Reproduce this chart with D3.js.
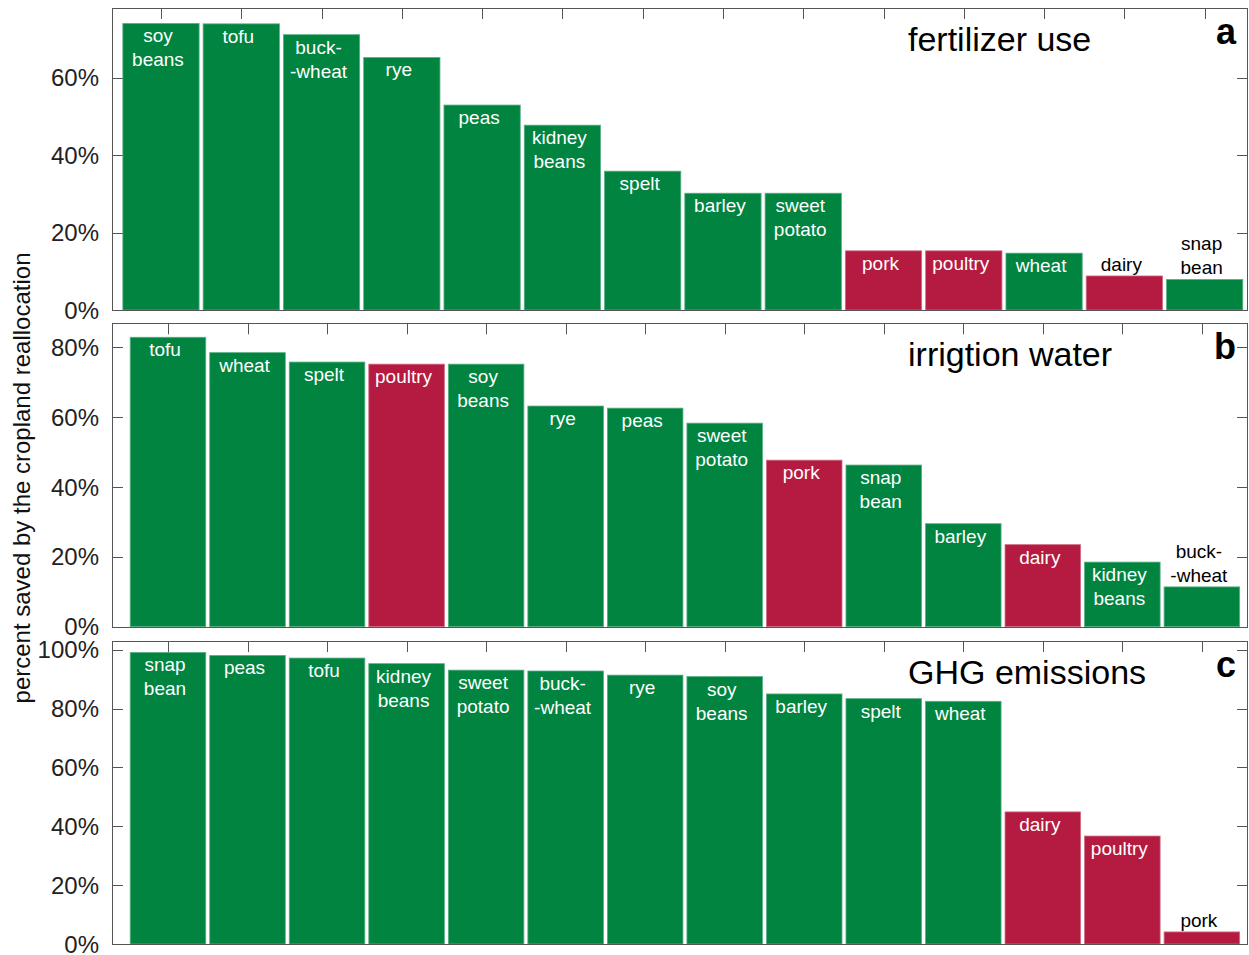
<!DOCTYPE html>
<html>
<head>
<meta charset="utf-8">
<script src="https://cdn.jsdelivr.net/npm/d3@7"></script>
<style>
  html, body { margin: 0; padding: 0; background: #fff; }
  svg { display: block; }
  text { font-family: "Liberation Sans", Arial, Helvetica, sans-serif; }
</style>
</head>
<body>
<svg id="chart" width="1249" height="955"></svg>
<script>
// Share of each resource saved when the cropland is reallocated, per product
const fertilizerCrops = ["soy beans", "tofu", "buckwheat", "rye", "peas", "kidney beans", "spelt",
  "barley", "sweet potato", "pork", "poultry", "wheat", "dairy", "snap bean"];
const fertilizerSaved = [74.1, 74.0, 71.2, 65.3, 53.0, 47.8, 35.9, 30.2, 30.2, 15.3, 15.3, 14.7, 8.8, 7.9];

const irrigationCrops = ["tofu", "wheat", "spelt", "poultry", "soy beans", "rye", "peas",
  "sweet potato", "pork", "snap bean", "barley", "dairy", "kidney beans", "buckwheat"];
const irrigationSaved = [82.9, 78.5, 75.8, 75.2, 75.2, 63.2, 62.6, 58.3, 47.7, 46.3, 29.5, 23.5, 18.5, 11.4];

const ghgCrops = ["snap bean", "peas", "tofu", "kidney beans", "sweet potato", "buckwheat", "rye",
  "soy beans", "barley", "spelt", "wheat", "dairy", "poultry", "pork"];
const ghgSaved = [99.1, 98.1, 97.2, 95.3, 93.1, 92.8, 91.4, 90.9, 85.0, 83.4, 82.5, 44.9, 36.7, 4.1];

const panelTitles = ["fertilizer use", "irrigtion water", "GHG emissions"];
const panelLetters = ["a", "b", "c"];
const yTickValues = [[0, 20, 40, 60], [0, 20, 40, 60, 80], [0, 20, 40, 60, 80, 100]];
const yAxisTitle = "percent saved by the cropland reallocation";

// Animal products are shown in red, plant foods in green
const animalProducts = ["pork", "poultry", "dairy"];
const plantColor = "#00843f";
const animalColor = "#b51b40";

// Two-line labels for the longer names
const wrappedLabels = new Map([
  ["soy beans", ["soy", "beans"]],
  ["kidney beans", ["kidney", "beans"]],
  ["sweet potato", ["sweet", "potato"]],
  ["snap bean", ["snap", "bean"]],
  ["buckwheat", ["buck-", "-wheat"]]
]);

const panels = [
  { crops: fertilizerCrops, values: fertilizerSaved, yMax: 78.1, xDomain: [0.39, 14.54], top: 8, bottom: 310 },
  { crops: irrigationCrops, values: irrigationSaved, yMax: 86.9, xDomain: [0.296, 14.58], top: 323.3, bottom: 626.7 },
  { crops: ghgCrops, values: ghgSaved, yMax: 103, xDomain: [0.296, 14.58], top: 641, bottom: 944 }
];

const svg = d3.select("#chart");
const left = 112, right = 1248;
const frameColor = "#555";
const tickLen = 11;
const barWidthUnits = 0.95;
const labelSize = 19, lineGap = 24;

panels.forEach((p, pi) => {
  const x = d3.scaleLinear().domain(p.xDomain).range([left, right]);
  const y = d3.scaleLinear().domain([0, p.yMax]).range([p.bottom, p.top]);
  const g = svg.append("g");
  const idx = d3.range(1, p.crops.length + 1);

  // tick marks (drawn beneath the bars)
  const ticks = g.append("g").attr("stroke", frameColor).attr("stroke-width", 1);
  ticks.selectAll("line.xt").data(idx).join("line")
    .attr("x1", d => Math.round(x(d)) + 0.5).attr("x2", d => Math.round(x(d)) + 0.5)
    .attr("y1", p.top).attr("y2", p.top + tickLen);
  ticks.selectAll("line.yl").data(yTickValues[pi]).join("line")
    .attr("x1", left).attr("x2", left + tickLen)
    .attr("y1", d => Math.round(y(d)) + 0.5).attr("y2", d => Math.round(y(d)) + 0.5);
  ticks.selectAll("line.yr").data(yTickValues[pi]).join("line")
    .attr("x1", right - tickLen).attr("x2", right)
    .attr("y1", d => Math.round(y(d)) + 0.5).attr("y2", d => Math.round(y(d)) + 0.5);

  const rows = p.crops.map((c, i) => ({ name: c, value: p.values[i], pos: i + 1 }));
  const colorOf = d => animalProducts.includes(d.name) ? animalColor : plantColor;
  const edgeOf = d => d3.interpolateRgb(colorOf(d), "#ffffff")(0.35);

  // bars
  g.selectAll("rect.bar").data(rows).join("rect")
    .attr("class", "bar")
    .attr("x", d => x(d.pos - barWidthUnits / 2))
    .attr("width", d => x(d.pos + barWidthUnits / 2) - x(d.pos - barWidthUnits / 2))
    .attr("y", d => y(d.value))
    .attr("height", d => y(0) - y(d.value))
    .attr("fill", colorOf)
    .attr("stroke", edgeOf)
    .attr("stroke-width", 0.8);

  // product labels: inside the bar top, or above it when the bar is short
  rows.forEach(d => {
    const lines = wrappedLabels.get(d.name) || [d.name];
    const barH = y(0) - y(d.value);
    const inside = barH > 45;
    const cx = x(d.pos) - 3;
    const t = g.append("text")
      .attr("text-anchor", "middle")
      .attr("font-size", labelSize)
      .attr("fill", inside ? "#ffffff" : "#000000");
    lines.forEach((ln, li) => {
      let yy;
      if (inside) yy = y(d.value) + 19 + li * lineGap;
      else yy = y(d.value) - 5 - (lines.length - 1 - li) * lineGap;
      t.append("tspan").attr("x", cx).attr("y", yy).text(ln);
    });
  });

  // y tick labels
  g.selectAll("text.ytl").data(yTickValues[pi]).join("text")
    .attr("x", 99)
    .attr("y", d => y(d) + 8.5)
    .attr("text-anchor", "end")
    .attr("font-size", 24)
    .attr("fill", "#222")
    .text(d => d + "%");

  // axes box
  g.append("rect")
    .attr("x", left + 0.5).attr("y", Math.round(p.top) + 0.5)
    .attr("width", right - left - 1).attr("height", Math.round(p.bottom) - Math.round(p.top))
    .attr("fill", "none").attr("stroke", frameColor).attr("stroke-width", 1);

  // panel title and letter
  g.append("text")
    .attr("x", 908).attr("y", p.top + 42.5)
    .attr("font-size", 34).attr("fill", "#000")
    .text(panelTitles[pi]);
  g.append("text")
    .attr("x", 1236).attr("y", p.top + 36)
    .attr("text-anchor", "end")
    .attr("font-size", 36).attr("font-weight", "bold").attr("fill", "#000")
    .text(panelLetters[pi]);
});

// shared y-axis title
svg.append("text")
  .attr("transform", "translate(30,478) rotate(-90)")
  .attr("text-anchor", "middle")
  .attr("font-size", 24)
  .attr("fill", "#111")
  .text(yAxisTitle);
</script>
</body>
</html>
